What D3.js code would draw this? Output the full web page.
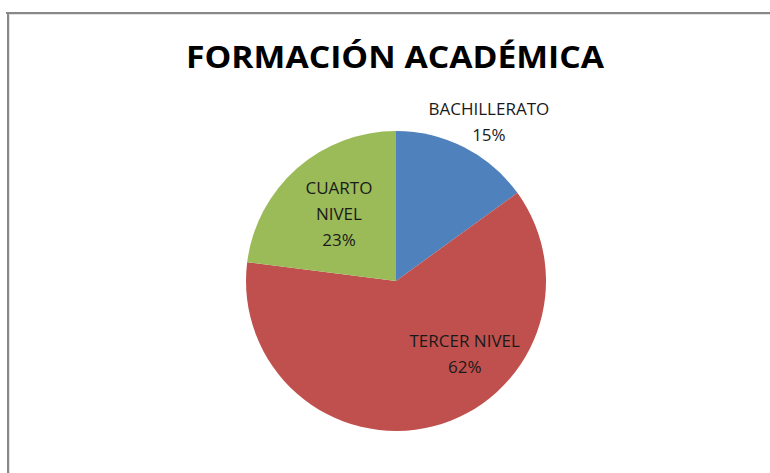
<!DOCTYPE html>
<html>
<head>
<meta charset="utf-8">
<script src="https://cdn.jsdelivr.net/npm/d3@7"></script>
<style>
  html, body { margin: 0; padding: 0; background: #fff; }
  svg { display: block; }
</style>
</head>
<body>
<svg id="chart" width="770" height="473"></svg>
<script>
// Education level breakdown
const categories = ["BACHILLERATO", "TERCER NIVEL", "CUARTO NIVEL"];
const shares = [15, 62, 23];
const labelLines = [["BACHILLERATO", "15%"], ["TERCER NIVEL", "62%"], ["CUARTO", "NIVEL", "23%"]];
const colors = ["#4F81BD", "#C0504D", "#9BBB59"];
const title = "FORMACIÓN ACADÉMICA";

// Label placement per slice: distance from centre and angular nudge (radians)
const labelRadius = [184, 100, 88];
const labelAngleShift = [0.058, -0.506, 0.017];

const W = 770, H = 473;
const cx = 396, cy = 281, R = 150;

const svg = d3.select("#chart");

// chart frame (top and left edges visible)
const frame = svg.append("g");
frame.append("line").attr("x1", 6).attr("x2", W).attr("y1", 13).attr("y2", 13)
  .attr("stroke", "#888").attr("stroke-width", 2);
frame.append("line").attr("x1", 8).attr("x2", 8).attr("y1", 12).attr("y2", H)
  .attr("stroke", "#888").attr("stroke-width", 2);
frame.append("line").attr("x1", 9).attr("x2", W).attr("y1", 14.5).attr("y2", 14.5)
  .attr("stroke", "#e2e2e2").attr("stroke-width", 1);
frame.append("line").attr("x1", 9.5).attr("x2", 9.5).attr("y1", 14).attr("y2", H)
  .attr("stroke", "#e2e2e2").attr("stroke-width", 1);

// title
svg.append("text")
  .attr("x", 395).attr("y", 68)
  .attr("text-anchor", "middle")
  .attr("font-family", "'Open Sans', sans-serif")
  .attr("font-weight", 700)
  .attr("font-size", 30)
  .attr("fill", "#000")
  .attr("textLength", 418)
  .attr("lengthAdjust", "spacingAndGlyphs")
  .text(title);

const data = categories.map((c, i) => ({ name: c, value: shares[i], i }));
const pie = d3.pie().value(d => d.value).sort(null);
const arcs = pie(data);
const arc = d3.arc().innerRadius(0).outerRadius(R);

const g = svg.append("g").attr("transform", `translate(${cx},${cy})`);

g.selectAll("path.slice")
  .data(arcs)
  .join("path")
  .attr("class", "slice")
  .attr("d", arc)
  .attr("fill", d => colors[d.data.i]);

// data labels
const lineH = 26;
arcs.forEach(d => {
  const i = d.data.i;
  const mid = (d.startAngle + d.endAngle) / 2 + labelAngleShift[i];
  const r = labelRadius[i];
  const x = Math.sin(mid) * r;
  const y = -Math.cos(mid) * r;
  const lines = labelLines[i];
  const t = g.append("text")
    .attr("text-anchor", "middle")
    .attr("font-family", "'Open Sans', sans-serif")
    .attr("font-size", 17)
    .attr("fill", "#1a1a1a");
  lines.forEach((ln, k) => {
    t.append("tspan")
      .attr("x", x)
      .attr("y", y + (k - (lines.length - 1) / 2) * lineH + 6)
      .text(ln);
  });
});
</script>
</body>
</html>
